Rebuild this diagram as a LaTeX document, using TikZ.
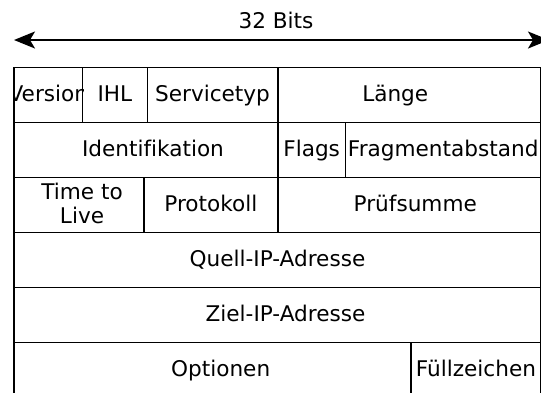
\documentclass[tikz,border=0pt]{standalone}
\usepackage{fontspec}
\setmainfont{DejaVu Sans}[Ligatures=CommonOff]
\usetikzlibrary{positioning,arrows.meta}

\tikzset{
  schrift/.style={font=\fontsize{21.6}{24}\selectfont,inner sep=0pt},
  feld/.style={schrift,draw,line width=1.6pt,minimum height=55,anchor=north west,
    text height=17,text depth=4},
}

\begin{document}
\begin{tikzpicture}[x=1pt,y=-1pt]
\clip (0,0) rectangle (541,392);
% Breite
\coordinate (links) at (14,40);
\coordinate (rechts) at (549,40);
\draw[line width=1.8pt,{Stealth[length=21,width=17,inset=5]}-{Stealth[length=21,width=17,inset=5]}] (links)--(rechts);
\node[schrift] (bits) at (276,20) {32 Bits};
% Zeile 1
\node[feld,minimum width=68.3] (version) at (13.4,66.7) {};
\begin{scope}
\clip (version.north west) rectangle (version.south east);
\node[schrift,text height=17,text depth=4] (version-t) at (version.center) {Version};
\end{scope}
\node[feld,minimum width=64.9] (ihl) at (81.7,66.7) {IHL};
\node[feld,minimum width=130.3] (servicetyp) at (146.6,66.7) {Servicetyp};
\node[feld,minimum width=263.1] (laenge) at (276.9,66.7) {Länge\kern28pt};
% Zeile 2
\node[feld,minimum width=263.5] (ident) at (13.4,121.7) {\kern14pt Identifikation};
\node[feld,minimum width=67.9] (flags) at (276.9,121.7) {Flags};
\node[feld,minimum width=195.2] (fragment) at (344.8,121.7) {Fragmentabstand};
% Zeile 3
\node[feld,minimum width=129.7,align=center,text height=41] (ttl) at (13.4,176.7) {\kern6pt Time to\\\kern6pt Live};
\node[feld,minimum width=133.8] (protokoll) at (143.1,176.7) {Protokoll};
\node[feld,minimum width=263.1] (pruefsumme) at (276.9,176.7) {\kern12pt Prüfsumme};
% Zeile 4 und 5
\node[feld,minimum width=526.6] (quelle) at (13.4,231.7) {Quell-IP-Adresse};
\node[feld,minimum width=526.6] (ziel) at (13.4,286.7) {\kern16pt Ziel-IP-Adresse};
% Zeile 6
\node[feld,minimum width=396.9] (optionen) at (13.4,341.7) {\kern16pt Optionen};
\node[feld,minimum width=129.7] (fuell) at (410.3,341.7) {Füllzeichen};
\end{tikzpicture}
\end{document}
